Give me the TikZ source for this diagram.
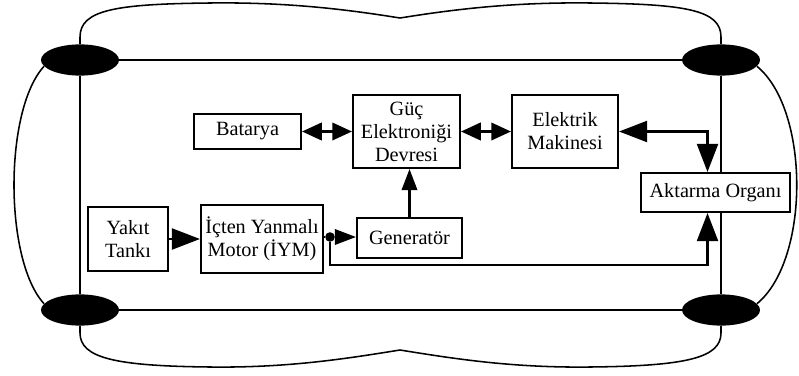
\documentclass[tikz,border=0pt]{standalone}
\usepackage{fontspec}
\setmainfont{Liberation Serif}
\usetikzlibrary{shapes.geometric,arrows.meta,calc}

\begin{document}
\begin{tikzpicture}[x=0.025cm, y=-0.025cm,
        unit/.style={draw, line width=1.5pt, align=center, inner sep=0pt, font=\fontsize{14.4}{16.4}\selectfont},
        wheel/.style={ellipse, fill=black, minimum width=1.95cm, minimum height=0.78cm, inner sep=0pt},
        dot/.style={circle, fill=black, minimum size=0.24cm, inner sep=0pt},
        body/.style={line width=1.1pt},
        link/.style={line width=1.5pt},
        bigtips/.style={>={Triangle[length=20pt,width=15pt]}},
        midtips/.style={>={Triangle[length=15pt,width=11pt]}},
        smalltips/.style={>={Triangle[length=14pt,width=12.5pt]}}]
        \useasboundingbox (0,0) rectangle (799,375);

        % Wheels and chassis
        \node[wheel] (wLT) at (80,60) {};
        \node[wheel] (wRT) at (721,60) {};
        \node[wheel] (wLB) at (80,310) {};
        \node[wheel] (wRB) at (721,310) {};
        \draw[body] (wLT) -- (wRT);
        \draw[body] (wLB) -- (wRB);
        \draw[body] (wLT) -- (wLB);

        % Car body
        \draw[body] (wLT.north) -- ++(0,-7) .. controls (80,10) and (115,4) .. (210,3) .. controls (290,2) and (350,10) .. (400,18) .. controls (450,10) and (510,2) .. (590,3) .. controls (686,4) and (721,10) .. (721,37) -- (wRT.north);
        \draw[body] (wLB.south) -- ++(0,7) .. controls (80,358) and (115,366) .. (210,367) .. controls (290,368) and (350,358) .. (400,350) .. controls (450,358) and (510,368) .. (590,367) .. controls (686,366) and (721,358) .. (721,333) -- (wRB.south);
        \draw[body] (wLT.190) .. controls (4,110) and (4,260) .. (wLB.170);
        \draw[body] (wRT.-10) .. controls (810,110) and (810,260) .. (wRB.10);

        % Units
        \node[unit, minimum width=2.675cm, minimum height=0.875cm] (batarya) at (247.5,131.5) {Batarya};
        \node[unit, minimum width=2.675cm, minimum height=1.825cm] (guc) at (406.5,131.5) {Güç\\Elektroniği\\Devresi};
        \node[unit, minimum width=2.65cm, minimum height=1.825cm] (elektrik) at (565,131.5) {Elektrik\\Makinesi};
        \node[unit, minimum width=3.725cm, minimum height=0.975cm] (aktarma) at (715.5,192.5) {Aktarma Organı};
        \node[unit, minimum width=2cm, minimum height=1.6cm] (yakit) at (128,239) {Yakıt\\Tankı};
        \node[unit, minimum width=3.05cm, minimum height=1.7cm] (iym) at (262,239) {İçten Yanmalı\\Motor (İYM)};
        \node[unit, minimum width=2.625cm, minimum height=1cm] (gen) at (409.5,238) {Generatör};
        \node[dot] (split) at (330,237) {};
        \coordinate (akTop) at ($(aktarma.north)+(-8,0)$);
        \coordinate (akBot) at ($(aktarma.south)+(-8,0)$);

        % Right side of the chassis through the transmission
        \draw[body] (wRT) -- (wRT |- aktarma.north);
        \draw[body] (wRT |- aktarma.south) -- (wRB);

        % Power flow
        \draw[link, smalltips, <->] (batarya) -- (guc);
        \draw[link, smalltips, <->] (guc) -- (elektrik);
        \draw[link, bigtips, <->] (elektrik.east) -| (akTop);
        \draw[link, midtips, ->] (gen.north) -- (gen.north |- guc.south);
        \draw[link, bigtips, ->] (yakit) -- (iym);
        \draw[link] (iym.east |- split) -- (split);
        \draw[link, midtips, ->] (split) -- (split -| gen.west);
        \draw[link, bigtips, ->] (split) -- ++(0,28) -| (akBot);
\end{tikzpicture}
\end{document}
